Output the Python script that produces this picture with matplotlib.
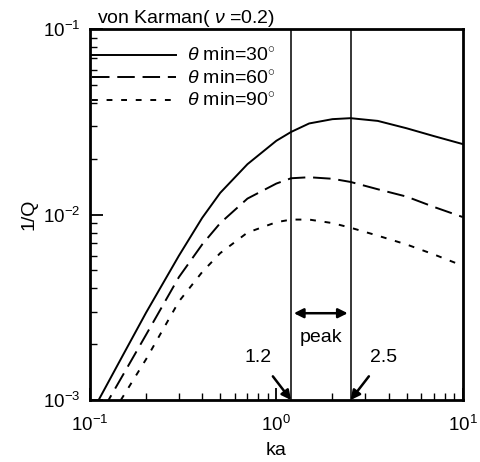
import matplotlib
matplotlib.use('Agg')
import matplotlib.pyplot as plt

plt.rcParams['font.family'] = ['Liberation Sans', 'DejaVu Sans']
plt.rcParams['mathtext.fontset'] = 'custom'
plt.rcParams['mathtext.it'] = 'Liberation Sans:italic'
plt.rcParams['mathtext.rm'] = 'Liberation Sans'

# values (ka vs 1/Q)
ka = [0.1, 0.15, 0.2, 0.3, 0.4, 0.5, 0.7, 1.0, 1.2, 1.5, 2.0, 2.5, 3.5, 5.0, 7.0, 10.0]
q_30 = [0.00082, 0.00174, 0.00296, 0.0060, 0.0096, 0.0131, 0.0187, 0.0250, 0.0279,
        0.0310, 0.0327, 0.0331, 0.0320, 0.0292, 0.0265, 0.0240]
q_60 = [0.00067, 0.00136, 0.00225, 0.0046, 0.0069, 0.0090, 0.0122, 0.0147, 0.0157,
        0.0159, 0.0156, 0.0150, 0.0137, 0.0125, 0.0110, 0.0097]
q_90 = [0.00054, 0.00104, 0.00166, 0.0034, 0.0049, 0.0062, 0.0080, 0.0091, 0.0094,
        0.0094, 0.0090, 0.0085, 0.0077, 0.0069, 0.0061, 0.0053]
labels = [r'$\theta$ min=30$^{\circ}$', r'$\theta$ min=60$^{\circ}$', r'$\theta$ min=90$^{\circ}$']
peak_lo, peak_hi = 1.2, 2.5

fig = plt.figure(figsize=(4.81, 4.62), dpi=100)
ax = fig.add_axes([0.187, 0.134, 0.775, 0.803])

ax.plot(ka, q_30, color='k', linewidth=1.4, label=labels[0])
ax.plot(ka, q_60, color='k', linewidth=1.4, dashes=(9, 4), label=labels[1])
ax.plot(ka, q_90, color='k', linewidth=1.4, dashes=(3, 4.5), label=labels[2])

ax.axvline(peak_lo, color='k', linewidth=1.1)
ax.axvline(peak_hi, color='k', linewidth=1.1)

ax.set_xscale('log')
ax.set_yscale('log')
ax.set_xlim(0.1, 10)
ax.set_ylim(1e-3, 1e-1)

ax.annotate('', xy=(peak_lo, 0.00294), xytext=(peak_hi, 0.00294),
            arrowprops=dict(arrowstyle='<|-|>', color='k', lw=1.8, mutation_scale=14))
ax.text((peak_lo * peak_hi) ** 0.5, 0.00218, 'peak', ha='center', va='center', fontsize=14)
ax.annotate('1.2', xy=(peak_lo, 1e-3), xytext=(0.80, 0.0017), ha='center', va='center', fontsize=14,
            arrowprops=dict(arrowstyle='-|>', color='k', lw=1.8, mutation_scale=14, shrinkA=7, shrinkB=0))
ax.annotate('2.5', xy=(peak_hi, 1e-3), xytext=(3.76, 0.0017), ha='center', va='center', fontsize=14,
            arrowprops=dict(arrowstyle='-|>', color='k', lw=1.8, mutation_scale=14, shrinkA=7, shrinkB=0))

ax.set_xlabel('ka', fontsize=14, labelpad=5)
ax.set_ylabel('1/Q', fontsize=14, labelpad=4)
ax.text(0.02, 1.0, r'von Karman( $\nu$ =0.2)', transform=ax.transAxes, fontsize=14,
        ha='left', va='bottom')

ax.tick_params(which='both', direction='in', labelsize=13.5, top=False, right=False)
ax.tick_params(which='major', length=9, width=1.3, pad=7)
ax.tick_params(axis='x', which='major', pad=11)
ax.tick_params(which='minor', length=5, width=1.0)
for s in ax.spines.values():
    s.set_linewidth(2)

ax.legend(loc='upper left', bbox_to_anchor=(0.0, 0.956), frameon=False, fontsize=14,
          handlelength=4.3, handletextpad=0.6, labelspacing=0.22, borderaxespad=0, borderpad=0.1)

plt.savefig('out.png', dpi=100)
